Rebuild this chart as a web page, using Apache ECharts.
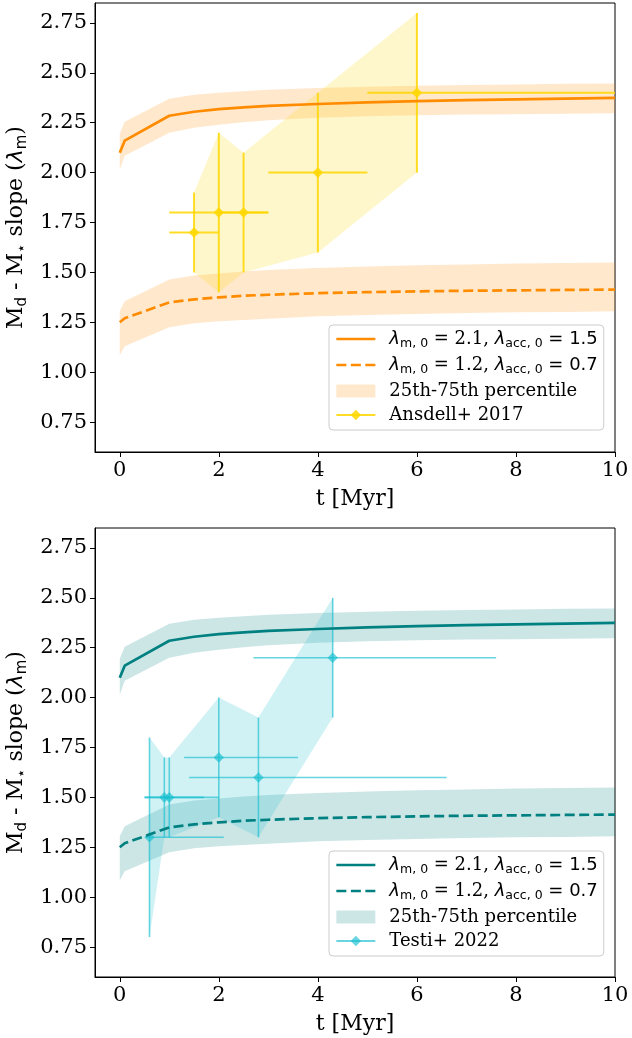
<!DOCTYPE html>
<html>
<head>
<meta charset="utf-8">
<script src="https://cdn.jsdelivr.net/npm/echarts@6/dist/echarts.min.js"></script>
<style>
html, body { margin: 0; padding: 0; background: #fff; }
#chart { width: 632px; height: 1038px; }
</style>
</head>
<body>
<div id="chart"></div>
<script>
// model time grid [Myr]
var tGrid = [0, 0.1, 1, 1.5, 2, 2.5, 3, 4, 5, 6, 7, 8, 9, 10];
// lambda_m,0 = 2.1 model: median and 25th/75th percentile
var lamHigh   = [2.10, 2.16, 2.285, 2.305, 2.318, 2.327, 2.334, 2.344, 2.352, 2.358, 2.363, 2.367, 2.371, 2.375];
var lamHighLo = [2.015, 2.085, 2.20, 2.225, 2.24, 2.252, 2.262, 2.275, 2.283, 2.288, 2.291, 2.293, 2.295, 2.297];
var lamHighHi = [2.195, 2.255, 2.37, 2.39, 2.40, 2.408, 2.415, 2.424, 2.43, 2.435, 2.439, 2.442, 2.445, 2.447];
// lambda_m,0 = 1.2 model
var lamLow   = [1.25, 1.27, 1.35, 1.365, 1.375, 1.383, 1.388, 1.396, 1.401, 1.405, 1.408, 1.41, 1.412, 1.414];
var lamLowLo = [1.085, 1.13, 1.225, 1.245, 1.255, 1.262, 1.268, 1.28, 1.287, 1.292, 1.296, 1.30, 1.302, 1.305];
var lamLowHi = [1.305, 1.355, 1.465, 1.485, 1.495, 1.505, 1.512, 1.522, 1.53, 1.536, 1.54, 1.544, 1.547, 1.55];

// Ansdell+ 2017
var ansT     = [1.5, 2.0, 2.5, 4.0, 6.0];
var ansLam   = [1.7, 1.8, 1.8, 2.0, 2.4];
var ansTLo   = [1.0, 1.0, 2.0, 3.0, 5.0];
var ansTHi   = [2.0, 3.0, 3.0, 5.0, 10.0];
var ansLamLo = [1.5, 1.4, 1.5, 1.6, 2.0];
var ansLamHi = [1.9, 2.2, 2.1, 2.4, 2.8];

// Testi+ 2022
var tesT     = [0.6, 0.9, 1.0, 2.0, 2.8, 4.3];
var tesLam   = [1.3, 1.5, 1.5, 1.7, 1.6, 2.2];
var tesTLo   = [0.53, 0.5, 0.5, 1.3, 1.4, 2.7];
var tesTHi   = [2.1, 1.7, 2.0, 3.6, 6.6, 7.6];
var tesLamLo = [0.8, 1.3, 1.3, 1.4, 1.3, 1.9];
var tesLamHi = [1.8, 1.7, 1.7, 2.0, 1.9, 2.5];

var xTicks = [0, 2, 4, 6, 8, 10];
var yTicks = [0.75, 1.0, 1.25, 1.5, 1.75, 2.0, 2.25, 2.5, 2.75];

var serif = "'DejaVu Serif', serif";
var sans = "'DejaVu Sans', sans-serif";

var legendText = {
    solid: '{l|λ}{s|m, 0}{t| = 2.1, }{l|λ}{s|acc, 0}{m| = 1.5}',
    dash: '{l|λ}{s|m, 0}{t| = 1.2, }{l|λ}{s|acc, 0}{m| = 0.7}',
    band: '{t|25th-75th percentile}',
    ans: '{t|Ansdell+ 2017}',
    tes: '{t|Testi+ 2022}'
};

function pair(xs, ys) {
    return xs.map(function (x, i) { return [x, ys[i]]; });
}

// filled region between lo and hi
function bandSeries(name, ai, xs, lo, hi, color) {
    return {
        type: 'custom', name: name, xAxisIndex: ai, yAxisIndex: ai,
        silent: true,
        itemStyle: { color: color },
        data: xs.map(function (x, i) { return [x, lo[i], hi[i]]; }),
        encode: { x: 0, y: [1, 2] },
        renderItem: function (params, api) {
            if (params.dataIndex !== 0) return;
            var pts = [];
            for (var i = 0; i < xs.length; i++) pts.push(api.coord([xs[i], hi[i]]));
            for (var j = xs.length - 1; j >= 0; j--) pts.push(api.coord([xs[j], lo[j]]));
            return { type: 'polygon', shape: { points: pts }, style: { fill: color } };
        }
    };
}

function lineSeries(name, ai, ys, color, dashed) {
    return {
        type: 'line', name: name, xAxisIndex: ai, yAxisIndex: ai,
        data: pair(tGrid, ys),
        symbol: 'none', showSymbol: false,
        itemStyle: { color: color },
        lineStyle: { color: color, width: 2.7, type: dashed ? [10, 4.5] : 'solid' }
    };
}

// error bars with diamond markers
function errSeries(name, ai, xs, ys, xlo, xhi, ylo, yhi, color, lw) {
    return {
        type: 'custom', name: name, xAxisIndex: ai, yAxisIndex: ai,
        silent: true,
        data: xs.map(function (x, i) { return [x, ys[i], xlo[i], xhi[i], ylo[i], yhi[i]]; }),
        encode: { x: [0, 2, 3], y: [1, 4, 5] },
        renderItem: function (params, api) {
            var c = api.coord([api.value(0), api.value(1)]);
            var l = api.coord([api.value(2), api.value(1)]);
            var r = api.coord([api.value(3), api.value(1)]);
            var b = api.coord([api.value(0), api.value(4)]);
            var t = api.coord([api.value(0), api.value(5)]);
            var d = 5.3;
            return {
                type: 'group',
                children: [
                    { type: 'line', shape: { x1: l[0], y1: l[1], x2: r[0], y2: r[1] }, style: { stroke: color, lineWidth: lw } },
                    { type: 'line', shape: { x1: b[0], y1: b[1], x2: t[0], y2: t[1] }, style: { stroke: color, lineWidth: lw } },
                    { type: 'polygon', shape: { points: [[c[0], c[1] - d], [c[0] + d, c[1]], [c[0], c[1] + d], [c[0] - d, c[1]]] }, style: { fill: color } }
                ]
            };
        }
    };
}

// empty series only used for the legend icon
function legendDummy(name, ai, color, lw) {
    return {
        type: 'line', name: name, xAxisIndex: ai, yAxisIndex: ai, data: [],
        symbol: 'diamond', symbolSize: 11,
        itemStyle: { color: color },
        lineStyle: { color: color, width: lw }
    };
}

function xAxis(gi) {
    return {
        type: 'value', gridIndex: gi, min: -0.5, max: 10,
        name: 't [Myr]', nameLocation: 'middle', nameGap: 36,
        nameTextStyle: { fontFamily: serif, fontSize: 22, color: '#000' },
        axisLine: { onZero: false, lineStyle: { color: '#000', width: 1 } },
        axisTick: { show: true, inside: false, length: 5, customValues: xTicks, lineStyle: { color: '#000' } },
        axisLabel: { customValues: xTicks, margin: 8, fontFamily: serif, fontSize: 21, color: '#000' },
        splitLine: { show: false }
    };
}

function yAxis(gi) {
    return {
        type: 'value', gridIndex: gi, min: 0.6, max: 2.85,
        name: '{t|M}{s|d}{t| - M}{s|⋆}{t| slope (}{l|λ}{s|m}{t|)}',
        nameLocation: 'middle', nameRotate: 90, nameGap: 50,
        nameTextStyle: {
            fontFamily: serif, fontSize: 22, color: '#000',
            rich: {
                t: { fontFamily: serif, fontSize: 22, lineHeight: 26, color: '#000' },
                l: { fontFamily: sans, fontStyle: 'italic', fontSize: 22, lineHeight: 26, color: '#000' },
                s: { fontFamily: sans, fontSize: 15, lineHeight: 13, verticalAlign: 'bottom', color: '#000' }
            }
        },
        axisLine: { onZero: false, lineStyle: { color: '#000', width: 1 } },
        axisTick: { show: true, inside: false, length: 5, customValues: yTicks, lineStyle: { color: '#000' } },
        axisLabel: {
            customValues: yTicks, margin: 8, fontFamily: serif, fontSize: 21, color: '#000',
            formatter: function (v) { return v.toFixed(2); }
        },
        splitLine: { show: false }
    };
}

function legend(top, prefix, obsKey, bandColor) {
    return {
        orient: 'vertical', left: 329, top: top,
        padding: [5, 6, 6, 6], itemGap: 6,
        itemWidth: 39, itemHeight: 13,
        backgroundColor: 'rgba(255,255,255,0.8)',
        borderColor: '#cccccc', borderWidth: 1, borderRadius: 4,
        selectedMode: false,
        data: [
            { name: prefix + 'solid', itemStyle: { opacity: 0 }, lineStyle: { width: 2.7 } },
            { name: prefix + 'dash', itemStyle: { opacity: 0 }, lineStyle: { width: 2.7 } },
            { name: prefix + 'band', icon: 'rect', itemStyle: { color: bandColor } },
            { name: prefix + 'obs' }
        ],
        formatter: function (name) {
            var key = name.slice(prefix.length);
            if (key === 'obs') key = obsKey;
            return legendText[key];
        },
        textStyle: {
            fontFamily: serif, fontSize: 18, color: '#000', padding: [0, 0, 0, 9],
            rich: {
                t: { fontFamily: serif, fontSize: 18, lineHeight: 22, color: '#000' },
                l: { fontFamily: sans, fontStyle: 'italic', fontSize: 18, lineHeight: 22, color: '#000' },
                m: { fontFamily: sans, fontSize: 18, lineHeight: 22, color: '#000' },
                s: { fontFamily: sans, fontSize: 12.5, lineHeight: 11, verticalAlign: 'bottom', color: '#000' }
            }
        }
    };
}

var orange = '#ff8c00';
var orangeBand = 'rgba(255,140,0,0.2)';
var gold = 'rgba(255,215,0,0.85)';
var goldFill = 'rgba(255,215,0,0.2)';
var teal = '#008080';
var tealBand = 'rgba(0,128,128,0.2)';
var cyan = 'rgba(23,190,207,0.65)';
var cyanFill = 'rgba(23,190,207,0.2)';

var chart = echarts.init(document.getElementById('chart'), null, { renderer: 'canvas' });

var option = {
    animation: false,
    backgroundColor: '#fff',
    grid: [
        { left: 95, top: 3, width: 520, height: 449, show: true, borderColor: '#000', borderWidth: 1, containLabel: false, outerBoundsMode: 'none' },
        { left: 95, top: 528, width: 520, height: 449, show: true, borderColor: '#000', borderWidth: 1, containLabel: false, outerBoundsMode: 'none' }
    ],
    xAxis: [xAxis(0), xAxis(1)],
    yAxis: [yAxis(0), yAxis(1)],
    legend: [legend(325, 'a_', 'ans', orangeBand), legend(851, 'b_', 'tes', tealBand)],
    series: [
        // top panel
        bandSeries('a_band', 0, tGrid, lamHighLo, lamHighHi, orangeBand),
        bandSeries('a_band2', 0, tGrid, lamLowLo, lamLowHi, orangeBand),
        lineSeries('a_solid', 0, lamHigh, orange, false),
        lineSeries('a_dash', 0, lamLow, orange, true),
        legendDummy('a_obs', 0, gold, 1.5),
        bandSeries('a_obsfill', 0, ansT, ansLamLo, ansLamHi, goldFill),
        errSeries('a_obserr', 0, ansT, ansLam, ansTLo, ansTHi, ansLamLo, ansLamHi, gold, 2),
        // bottom panel
        bandSeries('b_band', 1, tGrid, lamHighLo, lamHighHi, tealBand),
        bandSeries('b_band2', 1, tGrid, lamLowLo, lamLowHi, tealBand),
        lineSeries('b_solid', 1, lamHigh, teal, false),
        lineSeries('b_dash', 1, lamLow, teal, true),
        legendDummy('b_obs', 1, cyan, 1.5),
        bandSeries('b_obsfill', 1, tesT, tesLamLo, tesLamHi, cyanFill),
        errSeries('b_obserr', 1, tesT, tesLam, tesTLo, tesTHi, tesLamLo, tesLamHi, cyan, 1.6)
    ]
};

chart.setOption(option);
</script>
</body>
</html>
